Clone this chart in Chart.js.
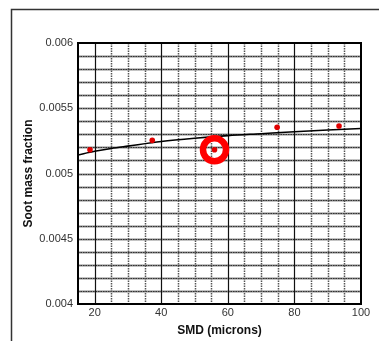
<!DOCTYPE html>
<html>
<head>
<meta charset="utf-8">
<script src="https://cdn.jsdelivr.net/npm/chart.js@4/dist/chart.umd.min.js"></script>
<style>
html,body{margin:0;padding:0;background:#fff;}
#wrap{position:relative;width:379px;height:341px;}
</style>
</head>
<body>
<div id="wrap"><canvas id="c" width="379" height="341"></canvas></div>
<script>
// Measured points
const smd = [18.6, 37.3, 56.0, 74.8, 93.4];
const sootFraction = [0.005182, 0.005254, 0.005182, 0.005354, 0.005364];
// Fitted curve
const curveSmd = [15, 20, 25, 30, 40, 50, 60, 70, 80, 90, 100];
const curveSoot = [0.005142, 0.005170, 0.005192, 0.005210, 0.005245, 0.005270, 0.005290, 0.005305, 0.005320, 0.005333, 0.005345];
// Highlighted point
const highlightSmd = [56.0];
const highlightSoot = [0.005182];
// Ticks
const xTickValues = [20, 40, 60, 80, 100];
const yTickValues = [0.004, 0.0045, 0.005, 0.0055, 0.006];
const yTickLabels = ['0.004', '0.0045', '0.005', '0.0055', '0.006'];
const xMajorGrid = [20, 40, 60, 80];
const xMinorGrid = [25, 30, 35, 45, 50, 55, 65, 70, 75, 85, 90, 95];
const yGrid = [0.0041,0.0042,0.0043,0.0044,0.0045,0.0046,0.0047,0.0048,0.0049,0.005,0.0051,0.0052,0.0053,0.0054,0.0055,0.0056,0.0057,0.0058,0.0059];

const FONT = "'Liberation Sans', Arial, sans-serif";

const framePlugin = {
  id: 'frame',
  beforeDraw(chart) {
    const ctx = chart.ctx;
    ctx.save();
    ctx.fillStyle = '#fff';
    ctx.fillRect(0, 0, chart.width, chart.height);
    ctx.strokeStyle = '#333';
    ctx.lineWidth = 1.5;
    ctx.beginPath();
    ctx.moveTo(11.5, chart.height);
    ctx.lineTo(11.5, 9.5);
    ctx.lineTo(chart.width, 9.5);
    ctx.stroke();
    ctx.restore();
  }
};

const gridPlugin = {
  id: 'customGrid',
  beforeDatasetsDraw(chart) {
    const {ctx, chartArea: a, scales: {x, y}} = chart;
    ctx.save();
    // horizontal lines (gray with dotted look)
    ctx.setLineDash([]);
    ctx.strokeStyle = '#8a8a8a';
    ctx.lineWidth = 1.8;
    yGrid.forEach(v => {
      const py = Math.round(y.getPixelForValue(v)) + 0.5;
      ctx.beginPath(); ctx.moveTo(a.left, py); ctx.lineTo(a.right, py); ctx.stroke();
    });
    ctx.strokeStyle = '#333';
    ctx.lineWidth = 1;
    ctx.setLineDash([1.5, 1]);
    yGrid.forEach(v => {
      const py = Math.round(y.getPixelForValue(v)) + 0.5;
      ctx.beginPath(); ctx.moveTo(a.left, py); ctx.lineTo(a.right, py); ctx.stroke();
    });
    // minor vertical dotted
    ctx.strokeStyle = '#555';
    ctx.lineWidth = 1.5;
    ctx.setLineDash([1.5, 1]);
    xMinorGrid.forEach(v => {
      const px = Math.round(x.getPixelForValue(v)) + 0.5;
      ctx.beginPath(); ctx.moveTo(px, a.top); ctx.lineTo(px, a.bottom); ctx.stroke();
    });
    // major vertical solid
    ctx.setLineDash([]);
    ctx.strokeStyle = '#111';
    ctx.lineWidth = 1.2;
    xMajorGrid.forEach(v => {
      const px = Math.round(x.getPixelForValue(v)) + 0.5;
      ctx.beginPath(); ctx.moveTo(px, a.top); ctx.lineTo(px, a.bottom); ctx.stroke();
    });
    // border
    ctx.strokeStyle = '#000';
    ctx.lineWidth = 2;
    ctx.strokeRect(a.left, a.top, a.right - a.left, a.bottom - a.top);
    ctx.restore();
  }
};

new Chart(document.getElementById('c'), {
  type: 'scatter',
  data: {
    datasets: [
      {
        type: 'line',
        data: curveSmd.map((v, i) => ({x: v, y: curveSoot[i]})),
        borderColor: '#000',
        borderWidth: 1.6,
        pointRadius: 0,
        fill: false,
        cubicInterpolationMode: 'monotone',
        order: 3
      },
      {
        data: smd.map((v, i) => ({x: v, y: sootFraction[i]})),
        backgroundColor: '#e00000',
        borderColor: '#e00000',
        pointRadius: 2.8,
        borderWidth: 0,
        order: 1
      },
      {
        data: highlightSmd.map((v, i) => ({x: v, y: highlightSoot[i]})),
        backgroundColor: 'rgba(0,0,0,0)',
        borderColor: '#ff0000',
        pointRadius: 11.5,
        borderWidth: 6.5,
        order: 2
      }
    ]
  },
  options: {
    responsive: false,
    animation: false,
    devicePixelRatio: 1,
    layout: {padding: {left: 0, right: 17, top: 43, bottom: 0}},
    plugins: {legend: {display: false}, tooltip: {enabled: false}},
    scales: {
      x: {
        type: 'linear',
        min: 15, max: 100,
        afterBuildTicks: s => { s.ticks = xTickValues.map(v => ({value: v})); },
        afterFit: s => { s.height = 37; },
        grid: {display: false, drawTicks: false},
        border: {display: false},
        ticks: {color: '#333', padding: 2, font: {family: FONT, size: 11}, callback: v => String(v)},
        title: {display: true, text: 'SMD (microns)', color: '#111', font: {family: FONT, size: 12, weight: 'bold'}, padding: {top: 0, bottom: 3}}
      },
      y: {
        type: 'linear',
        min: 0.004, max: 0.006,
        afterBuildTicks: s => { s.ticks = yTickValues.map(v => ({value: v})); },
        afterFit: s => { s.width = 78; },
        grid: {display: false, drawTicks: false},
        border: {display: false},
        ticks: {
          color: '#333', padding: 5, font: {family: FONT, size: 11},
          callback: (v) => { const i = yTickValues.findIndex(t => Math.abs(t - v) < 1e-9); return i >= 0 ? yTickLabels[i] : ''; }
        },
        title: {display: true, text: 'Soot mass fraction', color: '#111', font: {family: FONT, size: 12, weight: 'bold'}, padding: {top: 21, bottom: 0}}
      }
    }
  },
  plugins: [framePlugin, gridPlugin]
});
</script>
</body>
</html>
